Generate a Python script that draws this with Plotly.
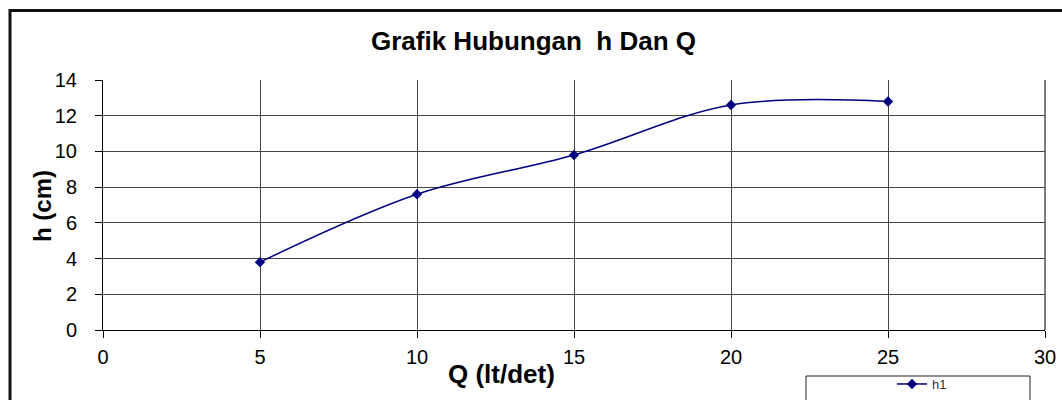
import plotly.graph_objects as go

# Data
Q = [5, 10, 15, 20, 25]
h1 = [3.8, 7.6, 9.8, 12.6, 12.8]
x_ticks = [0, 5, 10, 15, 20, 25, 30]
y_ticks = [0, 2, 4, 6, 8, 10, 12, 14]

W, H = 1062, 400
L, R, T, B = 103, 17, 80, 70
pw = W - L - R
ph = H - T - B

def px(x):  # screen pixels -> paper
    return (x - L) / pw

def py(y):
    return (H - B - y) / ph

FONT = "Liberation Sans, Arial, sans-serif"
NAVY = "#000080"
GRID = "#454545"

fig = go.Figure()
fig.add_trace(go.Scatter(
    x=Q, y=h1, name="h1", mode="lines+markers",
    line=dict(color=NAVY, width=1.5, shape="spline", smoothing=1.0),
    marker=dict(symbol="diamond", size=8, color=NAVY),
))

fig.update_layout(
    width=W, height=H,
    margin=dict(l=L, r=R, t=T, b=B, autoexpand=False),
    paper_bgcolor="white", plot_bgcolor="white",
    font=dict(family=FONT, color="black"),
    showlegend=True,
    legend=dict(x=px(892), y=py(369), xanchor="left", yanchor="top",
                bgcolor="rgba(0,0,0,0)", borderwidth=0,
                font=dict(size=13, family=FONT, color="#333"),
                itemwidth=30, tracegroupgap=0),
    xaxis=dict(range=[0, 30], tickvals=x_ticks, ticks="outside", ticklen=7,
               tickcolor="black", showline=True, linecolor="black", linewidth=1,
               showgrid=True, gridcolor=GRID, gridwidth=1.4, zeroline=False,
               ticklabelstandoff=2,
               tickfont=dict(size=20, family=FONT, color="black")),
    yaxis=dict(range=[0, 14], tickvals=y_ticks, ticks="outside", ticklen=7,
               tickcolor="black", showline=True, linecolor="black", linewidth=1,
               showgrid=True, gridcolor=GRID, gridwidth=1.4, zeroline=False,
               ticklabelstandoff=14,
               tickfont=dict(size=20, family=FONT, color="black")),
    annotations=[
        dict(text="<b>Grafik Hubungan  h Dan Q</b>", xref="paper", yref="paper",
             x=px(533), y=py(41), xanchor="center", yanchor="middle", showarrow=False,
             font=dict(size=26, family=FONT, color="black")),
        dict(text="<b>Q (lt/det)</b>", xref="paper", yref="paper",
             x=px(501), y=py(374), xanchor="center", yanchor="middle", showarrow=False,
             font=dict(size=26, family=FONT, color="black")),
        dict(text="<b>h (cm)</b>", xref="paper", yref="paper",
             x=px(42), y=py(206), xanchor="center", yanchor="middle", showarrow=False,
             textangle=-90,
             font=dict(size=24, family=FONT, color="black")),
    ],
    shapes=[
        dict(type="rect", xref="paper", yref="paper",
             x0=px(10), x1=px(1075), y0=py(420), y1=py(10.5),
             line=dict(color="#111", width=3), fillcolor="rgba(0,0,0,0)", layer="below"),
        dict(type="rect", xref="paper", yref="paper",
             x0=px(806), x1=px(1030), y0=py(420), y1=py(376),
             line=dict(color="#222", width=1), fillcolor="rgba(0,0,0,0)"),
        dict(type="line", xref="paper", yref="paper",
             x0=1, x1=1, y0=0, y1=1, line=dict(color=GRID, width=1.4)),
    ],
)

fig.write_html(
    "out.html",
    config={"displayModeBar": False},
    post_script="document.body.style.margin='0';document.body.style.overflow='hidden';",
)
